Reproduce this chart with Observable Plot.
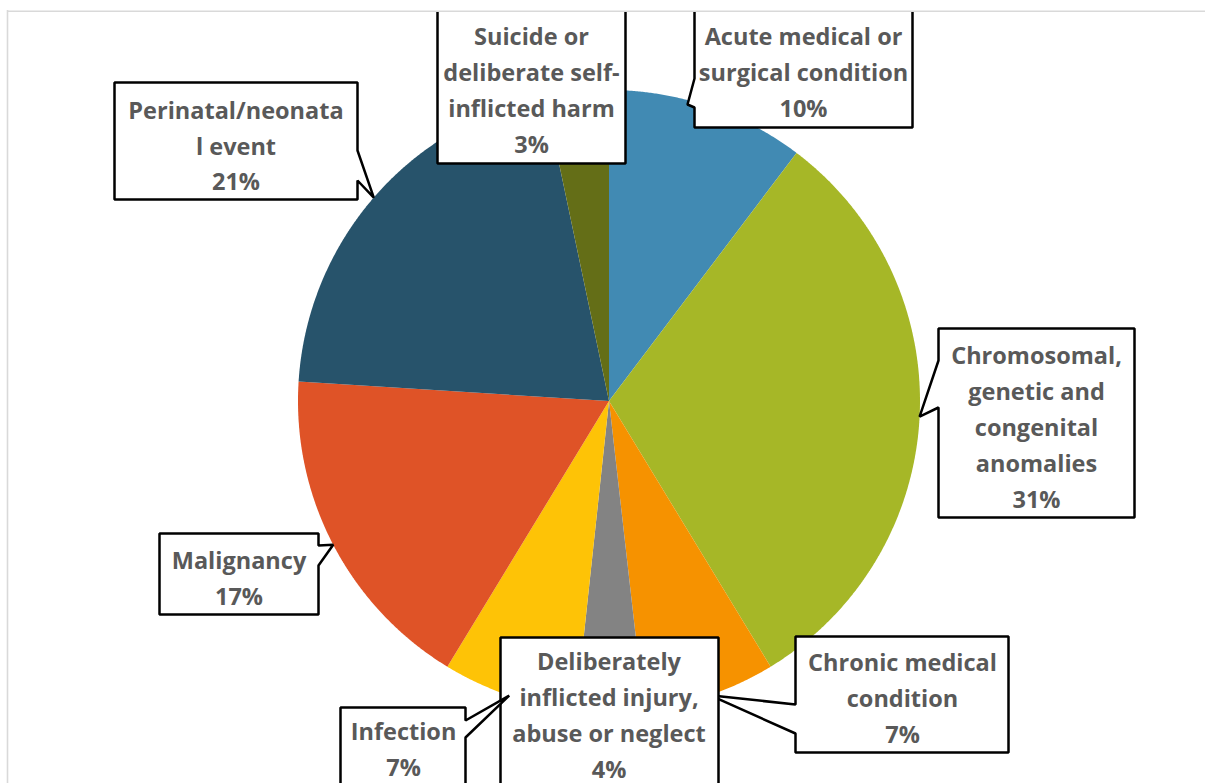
<!DOCTYPE html>
<html>
<head>
<meta charset="utf-8">
<script src="https://cdn.jsdelivr.net/npm/d3@7"></script>
<script src="https://cdn.jsdelivr.net/npm/@observablehq/plot@0.6"></script>
<style>
  html, body { margin: 0; padding: 0; background: #ffffff; }
  #chart svg { display: block; }
</style>
</head>
<body>
<div id="chart"></div>
<script>
// ---------- data ----------
const categories = [
  "Acute medical or surgical condition",
  "Chromosomal, genetic and congenital anomalies",
  "Chronic medical condition",
  "Deliberately inflicted injury, abuse or neglect",
  "Infection",
  "Malignancy",
  "Perinatal/neonatal event",
  "Suicide or deliberate self-inflicted harm"
];
const values = [10.3, 31.0, 6.9, 3.5, 7.0, 17.3, 20.7, 3.3];
const labelLines = [
  ["Acute medical or", "surgical condition"],
  ["Chromosomal,", "genetic and", "congenital", "anomalies"],
  ["Chronic medical", "condition"],
  ["Deliberately", "inflicted injury,", "abuse or neglect"],
  ["Infection"],
  ["Malignancy"],
  ["Perinatal/neonata", "l event"],
  ["Suicide or", "deliberate self-", "inflicted harm"]
];
const colors = ["#418AB3", "#A6B727", "#F69200", "#838383", "#FEC306", "#DF5327", "#27536B", "#646E17"];

// ---------- layout (pixels) ----------
const pie = {cx: 608.5, cy: 400.5, r: 311};
// callout boxes: [x1, x2, y1, y2], text centre, wedge side & base, optional tip override
const callouts = [
  {box: [694, 912, 0, 127], tx: 803, ty: 69, side: "left", base: [78, 107], tip: [687, 104]},
  {box: [938, 1134, 328, 517], tx: 1036, ty: 424, side: "left", base: [360, 407]},
  {box: [795, 1008, 636, 752], tx: 902, ty: 695, side: "left", base: [704, 733]},
  {box: [500, 718, 637, 800], tx: 608.5, ty: 712, side: null},
  {box: [340, 465, 707, 800], tx: 403, ty: 746, side: "right", base: [720, 737]},
  {box: [159, 318, 533, 614], tx: 238.5, ty: 575, side: "right", base: [545, 565]},
  {box: [114, 357, 82, 199], tx: 235.5, ty: 142.5, side: "right", base: [150, 180]},
  {box: [437, 625, 0, 163], tx: 531, ty: 87, side: null}
];
const drawOrder = [6, 7, 0, 1, 2, 5, 3, 4];

// ---------- geometry ----------
const arcs = d3.pie().sort(null).value(d => d)(values);
const pt = (a, rr = pie.r) => [pie.cx + rr * Math.sin(a), pie.cy - rr * Math.cos(a)];

const slicePts = [];
arcs.forEach((a, i) => {
  const key = categories[i];
  slicePts.push({key, x: pie.cx, y: pie.cy});
  const n = Math.max(2, Math.ceil((a.endAngle - a.startAngle) / (Math.PI / 720)));
  for (let k = 0; k <= n; k++) {
    const ang = a.startAngle + (a.endAngle - a.startAngle) * k / n;
    const [x, y] = pt(ang);
    slicePts.push({key, x, y});
  }
});

const calloutPts = [];
drawOrder.forEach((i, order) => {
  const c = callouts[i];
  const [x1, x2, y1, y2] = c.box;
  const mid = (arcs[i].startAngle + arcs[i].endAngle) / 2;
  const tip = c.tip || pt(mid);
  let poly;
  if (c.side === "right") {
    poly = [[x1, y1], [x2, y1], [x2, c.base[0]], tip, [x2, c.base[1]], [x2, y2], [x1, y2]];
  } else if (c.side === "left") {
    poly = [[x1, y1], [x2, y1], [x2, y2], [x1, y2], [x1, c.base[1]], tip, [x1, c.base[0]]];
  } else {
    poly = [[x1, y1], [x2, y1], [x2, y2], [x1, y2]];
  }
  poly.forEach(([x, y]) => calloutPts.push({key: order + "-" + categories[i], x, y}));
});

const labels = categories.map((c, i) => ({
  x: callouts[i].tx,
  y: callouts[i].ty,
  text: [...labelLines[i], Math.round(values[i]) + "%"].join("\n")
}));

const chart = Plot.plot({
  width: 1205,
  height: 783,
  marginTop: 12,
  marginLeft: 8,
  marginRight: 0,
  marginBottom: 0,
  x: {domain: [0, 1205], range: [0, 1205], axis: null},
  y: {domain: [0, 783], range: [0, 783], axis: null},
  color: {domain: categories, range: colors},
  style: {background: "#ffffff"},
  marks: [
    Plot.ruleY([10.8], {x1: 7, x2: 1205, stroke: "#D9D9D9", strokeWidth: 1.6}),
    Plot.ruleX([7], {y1: 10, y2: 783, stroke: "#D9D9D9", strokeWidth: 1.6}),
    Plot.line(slicePts, {x: "x", y: "y", z: "key", fill: "key", stroke: null, curve: "linear-closed"}),
    Plot.line(calloutPts, {x: "x", y: "y", z: "key", fill: "white", stroke: "black", strokeWidth: 2.5,
      strokeLinejoin: "miter", curve: "linear-closed", clip: "frame"}),
    Plot.text(labels, {x: "x", y: "y", text: "text", fontSize: 23.5, fontWeight: "bold",
      fontFamily: "'Open Sans', Lato, sans-serif", fill: "#595959", lineHeight: 1.53,
      lineAnchor: "middle", textAnchor: "middle", clip: "frame"})
  ]
});
document.getElementById("chart").appendChild(chart);
</script>
</body>
</html>
